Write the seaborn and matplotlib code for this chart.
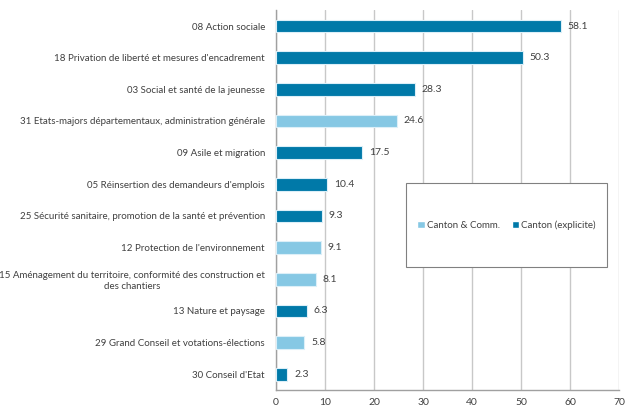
import matplotlib
matplotlib.use("Agg")
import matplotlib.pyplot as plt
from matplotlib.patches import Rectangle
from matplotlib.ticker import FixedLocator
import seaborn as sns
import pandas as pd

categories = [
    "08 Action sociale",
    "18 Privation de liberté et mesures d'encadrement",
    "03 Social et santé de la jeunesse",
    "31 Etats-majors départementaux, administration générale",
    "09 Asile et migration",
    "05 Réinsertion des demandeurs d'emplois",
    "25 Sécurité sanitaire, promotion de la santé et prévention",
    "12 Protection de l'environnement",
    "15 Aménagement du territoire, conformité des construction et\ndes chantiers",
    "13 Nature et paysage",
    "29 Grand Conseil et votations-élections",
    "30 Conseil d'Etat",
]
values = [58.1, 50.3, 28.3, 24.6, 17.5, 10.4, 9.3, 9.1, 8.1, 6.3, 5.8, 2.3]
groups = [
    "Canton (explicite)", "Canton (explicite)", "Canton (explicite)",
    "Canton & Comm.", "Canton (explicite)", "Canton (explicite)",
    "Canton (explicite)", "Canton & Comm.", "Canton & Comm.",
    "Canton (explicite)", "Canton & Comm.", "Canton (explicite)",
]
group_order = ["Canton & Comm.", "Canton (explicite)"]
palette = {"Canton & Comm.": "#86C8E4", "Canton (explicite)": "#0079A8"}
x_ticks = [0, 10, 20, 30, 40, 50, 60, 70]

df = pd.DataFrame({"categorie": categories, "valeur": values, "groupe": groups})

sns.set_style("white")
plt.rcParams["font.family"] = ["Lato", "DejaVu Sans"]
text_color = "#404040"
grid_color = "#C8C8C8"
fs = 7.0
fs_num = 7.5

fig = plt.figure(figsize=(6.26, 4.08), dpi=100)
ax = fig.add_axes([0.441, 0.044, 0.548, 0.931])

sns.barplot(
    data=df, x="valeur", y="categorie", hue="groupe", hue_order=group_order,
    palette=palette, saturation=1, dodge=False, width=0.4, orient="h",
    edgecolor="#DCEFF8", linewidth=0.8, ax=ax, legend=False, zorder=3,
)

ax.set_xlim(0, 70)
ax.set_ylim(len(categories) - 0.5, -0.5)
ax.set_xticks(x_ticks)
ax.set_xlabel("")
ax.set_ylabel("")
ax.xaxis.grid(True, color=grid_color, linewidth=1.0, zorder=0)
ax.set_axisbelow(True)

for s in ["top", "right"]:
    ax.spines[s].set_visible(False)
for s in ["left", "bottom"]:
    ax.spines[s].set_color("#A0A0A0")
    ax.spines[s].set_linewidth(1.0)

ax.tick_params(axis="x", colors=grid_color, length=3, width=1, labelcolor=text_color,
               labelsize=fs_num, pad=3)
ax.tick_params(axis="y", which="major", length=0, labelcolor=text_color, labelsize=fs, pad=8)
ax.yaxis.set_minor_locator(FixedLocator([i + 0.5 for i in range(-1, len(categories))]))
ax.tick_params(axis="y", which="minor", length=3, width=1, color="#A0A0A0")

for lab in ax.get_yticklabels():
    lab.set_multialignment("center")

for i, v in enumerate(values):
    ax.annotate(f"{v:.1f}", xy=(v, i), xytext=(5, 0), textcoords="offset points",
                va="center", ha="left", fontsize=fs_num, color=text_color, zorder=4)

# Legend box drawn over the grid
box = Rectangle((0.379, 0.324), 0.586, 0.221, transform=ax.transAxes,
                facecolor="white", edgecolor="#808080", linewidth=0.8, zorder=5)
ax.add_patch(box)
handles = [Rectangle((0, 0), 1, 1, facecolor=palette[g]) for g in group_order]
leg = ax.legend(handles, group_order, loc="center", bbox_to_anchor=(0.672, 0.4345),
                bbox_transform=ax.transAxes, ncol=2, frameon=False, fontsize=fs,
                handlelength=0.8, handleheight=0.8, handletextpad=0.2,
                columnspacing=1.2, labelcolor=text_color)
leg.set_zorder(6)

fig.savefig("out.png", dpi=100)
